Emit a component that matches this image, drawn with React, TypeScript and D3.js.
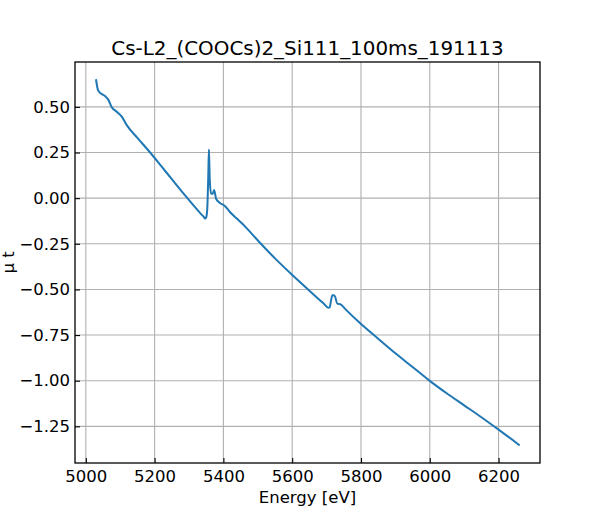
import React, { useEffect, useRef } from 'react';
import * as d3 from 'd3';

// values
const energy: number[] = [
  5030, 5035, 5044, 5056, 5066, 5075, 5090, 5105, 5119, 5150, 5187, 5220, 5250, 5288,
  5310, 5332, 5343, 5347, 5350, 5353, 5356, 5358, 5360, 5364, 5369, 5373, 5379, 5390,
  5405, 5419, 5439, 5453, 5480, 5509, 5550, 5598, 5650, 5690, 5705, 5709, 5713, 5717,
  5721, 5725, 5731, 5741, 5753, 5797, 5850, 5900, 5950, 5998, 6050, 6100, 6150, 6200,
  6259,
];
const mu: number[] = [
  0.646, 0.595, 0.573, 0.559, 0.537, 0.5, 0.473, 0.445, 0.4, 0.33, 0.25, 0.174, 0.104, 0.016,
  -0.033, -0.081, -0.103, -0.112, -0.105, -0.06, 0.12, 0.266, 0.12, 0.025, 0.024, 0.045, -0.005, -0.026,
  -0.044, -0.076, -0.112, -0.136, -0.19, -0.25, -0.33, -0.417, -0.507, -0.575, -0.6, -0.598, -0.56, -0.532,
  -0.532, -0.541, -0.578, -0.582, -0.605, -0.684, -0.77, -0.85, -0.925, -0.998, -1.07, -1.135, -1.2, -1.268,
  -1.351,
];
const xTicks: number[] = [5000, 5200, 5400, 5600, 5800, 6000, 6200];
const yTicks: number[] = [-1.25, -1.0, -0.75, -0.5, -0.25, 0.0, 0.25, 0.5];
const title = 'Cs-L2_(COOCs)2_Si111_100ms_191113';

const App: React.FC = () => {
  const ref = useRef<SVGSVGElement | null>(null);

  useEffect(() => {
    if (!ref.current) return;
    const W = 600;
    const H = 520;
    const margin = { top: 62, right: 60, bottom: 57, left: 75 };
    const width = W - margin.left - margin.right;
    const height = H - margin.top - margin.bottom;
    const font = 'DejaVu Sans, sans-serif';
    const fs = 16.5;

    d3.select(ref.current).selectAll('*').remove();
    const svg = d3.select(ref.current).attr('width', W).attr('height', H);

    const xMin = d3.min(energy) || 0;
    const xMax = d3.max(energy) || 0;
    const yMin = d3.min(mu) || 0;
    const yMax = d3.max(mu) || 0;
    const xPad = (xMax - xMin) * 0.05;
    const yPad = (yMax - yMin) * 0.05;

    const x = d3.scaleLinear().domain([xMin - xPad, xMax + xPad]).range([0, width]);
    const y = d3.scaleLinear().domain([yMin - yPad, yMax + yPad]).range([height, 0]);

    const chart = svg.append('g').attr('transform', `translate(${margin.left},${margin.top})`);

    // grid
    chart
      .append('g')
      .selectAll('line')
      .data(xTicks)
      .enter()
      .append('line')
      .attr('x1', (d) => x(d))
      .attr('x2', (d) => x(d))
      .attr('y1', 0)
      .attr('y2', height)
      .attr('stroke', '#b0b0b0')
      .attr('stroke-width', 1.1);
    chart
      .append('g')
      .selectAll('line')
      .data(yTicks)
      .enter()
      .append('line')
      .attr('x1', 0)
      .attr('x2', width)
      .attr('y1', (d) => y(d))
      .attr('y2', (d) => y(d))
      .attr('stroke', '#b0b0b0')
      .attr('stroke-width', 1.1);

    // spectrum
    const line = d3
      .line<number>()
      .x((_, i) => x(energy[i]))
      .y((d) => y(d))
      .curve(d3.curveMonotoneX);
    chart
      .append('path')
      .datum(mu)
      .attr('d', line)
      .attr('fill', 'none')
      .attr('stroke', '#1f77b4')
      .attr('stroke-width', 2)
      .attr('stroke-linejoin', 'round')
      .attr('stroke-linecap', 'square');

    // axes, ticks pointing inward
    const xAxis = chart
      .append('g')
      .attr('transform', `translate(0,${height})`)
      .call(d3.axisBottom(x).tickValues(xTicks).tickSizeInner(-5).tickSizeOuter(0).tickPadding(7).tickFormat(d3.format('d')));
    const yAxis = chart
      .append('g')
      .call(d3.axisLeft(y).tickValues(yTicks).tickSizeInner(-5).tickSizeOuter(0).tickPadding(5).tickFormat(d3.format('.2f')));
    [xAxis, yAxis].forEach((a) => {
      a.select('.domain').remove();
      a.selectAll('.tick line').attr('stroke', '#000').attr('stroke-width', 1.1);
      a.selectAll('.tick text').attr('fill', '#000').attr('font-size', fs).attr('font-family', font);
    });

    chart
      .append('rect')
      .attr('width', width)
      .attr('height', height)
      .attr('fill', 'none')
      .attr('stroke', '#000')
      .attr('stroke-width', 1.3);

    svg
      .append('text')
      .attr('x', margin.left + width / 2)
      .attr('y', 55)
      .attr('text-anchor', 'middle')
      .attr('font-family', font)
      .attr('font-size', 19.9)
      .text(title);

    svg
      .append('text')
      .attr('x', margin.left + width / 2)
      .attr('y', 503)
      .attr('text-anchor', 'middle')
      .attr('font-family', font)
      .attr('font-size', fs)
      .text('Energy [eV]');

    // y label sits hard against the left edge, as in the reference
    svg
      .append('text')
      .attr('transform', `translate(14,${margin.top + height / 2}) rotate(-90)`)
      .attr('text-anchor', 'middle')
      .attr('font-family', font)
      .attr('font-size', fs)
      .text('μ t');
  }, []);

  return <svg ref={ref} style={{ position: 'absolute', left: 0, top: 0 }} />;
};

export default App;
